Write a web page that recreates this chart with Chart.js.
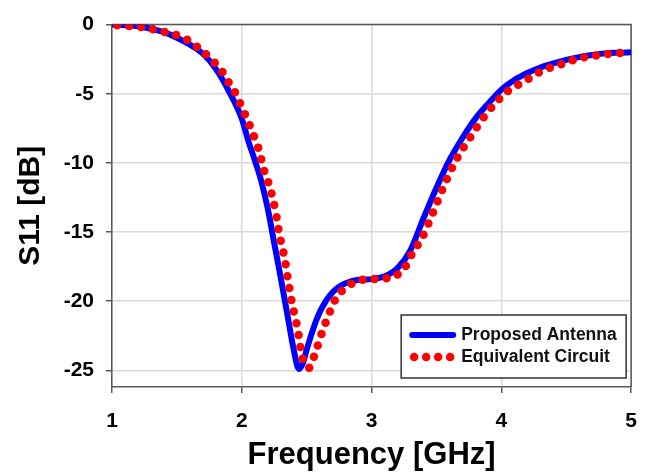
<!DOCTYPE html>
<html>
<head>
<meta charset="utf-8">
<script src="https://cdn.jsdelivr.net/npm/chart.js@4.4.0/dist/chart.umd.min.js"></script>
<style>
  html, body { margin: 0; padding: 0; background: #fff; }
</style>
</head>
<body>
<canvas id="myChart" width="653" height="474"></canvas>
<script>
const seriesNames = ['Proposed Antenna', 'Equivalent Circuit']

const freqProposed = [1.0, 1.1, 1.2, 1.3, 1.4, 1.5, 1.6, 1.7, 1.8, 1.9, 2.0, 2.05, 2.1, 2.15, 2.2, 2.25, 2.3, 2.35, 2.4, 2.44,
  2.47, 2.5, 2.55, 2.6, 2.65, 2.7, 2.75, 2.8, 2.9, 3.0, 3.1, 3.2, 3.3, 3.4, 3.5, 3.6, 3.7, 3.8, 3.9, 4.0,
  4.1, 4.2, 4.3, 4.4, 4.5, 4.6, 4.7, 4.8, 4.9, 5.0]
const s11Proposed = [0, -0.05, -0.12, -0.3, -0.55, -0.95, -1.45, -2.1, -3.2, -4.8, -6.8, -8.4, -9.8, -11.3, -13.3, -15.8, -18.3, -20.9, -23.5, -24.9,
  -24.5, -23.5, -22.0, -20.8, -19.95, -19.35, -18.95, -18.7, -18.45, -18.4, -18.2, -17.6, -16.3, -14.0, -11.8, -9.8, -8.2, -6.8, -5.7, -4.7,
  -4.0, -3.5, -3.1, -2.8, -2.55, -2.35, -2.2, -2.08, -2.03, -2.0]

const freqCircuit = [1.04, 1.1, 1.2, 1.32, 1.41, 1.51, 1.6, 1.68, 1.77, 1.85, 1.9, 1.96, 2.0, 2.04, 2.07, 2.11, 2.14, 2.16, 2.19, 2.22,
  2.26, 2.29, 2.33, 2.36, 2.39, 2.43, 2.46, 2.48, 2.52, 2.56, 2.62, 2.69, 2.73, 2.82, 2.9, 3.0, 3.1, 3.18, 3.26, 3.31,
  3.37, 3.41, 3.45, 3.49, 3.56, 3.65, 3.75, 3.88, 4.05, 4.14, 4.23, 4.32, 4.42, 4.51, 4.59, 4.69, 4.78, 4.87, 4.97, 5.0]
const s11Circuit = [-0.05, -0.08, -0.15, -0.35, -0.55, -0.8, -1.2, -1.8, -2.55, -3.4, -4.2, -5.1, -6.0, -6.8, -7.5, -8.5, -9.3, -10.2, -11.0, -11.9,
  -13.5, -15.2, -16.9, -18.7, -20.3, -22.0, -23.8, -24.5, -24.8, -23.9, -22.2, -20.5, -19.7, -18.9, -18.5, -18.4, -18.35, -18.2, -17.5, -16.6,
  -15.7, -15.0, -14.1, -13.2, -11.6, -9.8, -8.3, -6.5, -4.8, -4.3, -3.8, -3.3, -3.0, -2.7, -2.45, -2.3, -2.15, -2.1, -2.0, -2.0]

const xTicks = [1, 2, 3, 4, 5]
const yTicks = [0, -5, -10, -15, -20, -25]

const toPoints = (xs, ys) => xs.map((x, i) => ({ x: x, y: ys[i] }))

const axisColor = '#595959'
const gridColor = '#d9d9d9'
const font = 'Liberation Sans, Arial, sans-serif'

// top + right edges of the plot frame
const frame = {
  id: 'frame',
  beforeDatasetsDraw(chart) {
    const { ctx, chartArea: a } = chart
    ctx.save()
    ctx.strokeStyle = axisColor
    ctx.lineWidth = 1.5
    ctx.beginPath()
    ctx.moveTo(a.left, a.top)
    ctx.lineTo(a.right, a.top)
    ctx.lineTo(a.right, a.bottom)
    ctx.stroke()
    ctx.restore()
  },
}

// boxed legend inside the plot, bottom right
const boxLegend = {
  id: 'boxLegend',
  afterDraw(chart) {
    const { ctx, chartArea: a } = chart
    const ds = chart.data.datasets
    const w = 225
    const h = 63
    const x = a.right - 5 - w
    const y = a.bottom - 9 - h
    ctx.save()
    ctx.fillStyle = '#fff'
    ctx.fillRect(x, y, w, h)
    ctx.strokeStyle = '#333'
    ctx.lineWidth = 1.5
    ctx.strokeRect(x, y, w, h)

    const row1 = y + 20
    const row2 = y + 42

    ctx.strokeStyle = ds[0].borderColor
    ctx.lineWidth = 6
    ctx.lineCap = 'round'
    ctx.beginPath()
    ctx.moveTo(x + 11, row1)
    ctx.lineTo(x + 52, row1)
    ctx.stroke()

    ctx.fillStyle = ds[1].borderColor
    for (let i = 0; i < 4; i++) {
      ctx.beginPath()
      ctx.arc(x + 13 + i * 12, row2, 4.3, 0, Math.PI * 2)
      ctx.fill()
    }

    ctx.fillStyle = '#111'
    ctx.font = 'bold 17.5px ' + font
    ctx.textBaseline = 'middle'
    ctx.fillText(ds[0].label, x + 60, row1)
    ctx.fillText(ds[1].label, x + 60, row2)
    ctx.restore()
  },
}

const myChart = new Chart('myChart', {
  type: 'line',
  data: {
    datasets: [
      {
        label: seriesNames[0],
        data: toPoints(freqProposed, s11Proposed),
        borderColor: '#0000ff',
        borderWidth: 6,
        pointRadius: 0,
        cubicInterpolationMode: 'monotone',
        order: 1,
      },
      {
        label: seriesNames[1],
        data: toPoints(freqCircuit, s11Circuit),
        borderColor: '#ff0000',
        borderWidth: 8.5,
        borderDash: [0, 12],
        borderCapStyle: 'round',
        pointRadius: 0,
        cubicInterpolationMode: 'monotone',
        order: 0,
      },
    ],
  },
  options: {
    responsive: false,
    animation: false,
    layout: { padding: { left: 0, right: 18, top: 19, bottom: 0 } },
    plugins: {
      legend: { display: false },
      tooltip: { enabled: false },
    },
    scales: {
      x: {
        type: 'linear',
        min: 1,
        max: 5,
        afterBuildTicks: (scale) => { scale.ticks = xTicks.map((v) => ({ value: v })) },
        afterFit: (scale) => { scale.height = 87 },
        grid: { color: gridColor, lineWidth: 1.5, tickLength: 6, tickColor: axisColor },
        border: { color: axisColor, width: 1.5 },
        ticks: { color: '#000', padding: 16, font: { family: font, size: 21, weight: 'bold' } },
        title: {
          display: true,
          text: 'Frequency [GHz]',
          color: '#000',
          padding: { top: 0, bottom: 0 },
          font: { family: font, size: 31, weight: 'bold' },
        },
      },
      y: {
        min: -26.2,
        max: 0,
        afterBuildTicks: (scale) => { scale.ticks = yTicks.map((v) => ({ value: v })) },
        afterFit: (scale) => { scale.width = 112 },
        grid: { color: gridColor, lineWidth: 1.5, tickLength: 6, tickColor: axisColor },
        border: { color: axisColor, width: 1.5 },
        ticks: { color: '#000', padding: 12, font: { family: font, size: 21, weight: 'bold' } },
        title: {
          display: true,
          text: 'S11 [dB]',
          color: '#000',
          padding: { top: 13, bottom: 0 },
          font: { family: font, size: 30, weight: 'bold' },
        },
      },
    },
  },
  plugins: [frame, boxLegend],
})
</script>
</body>
</html>
